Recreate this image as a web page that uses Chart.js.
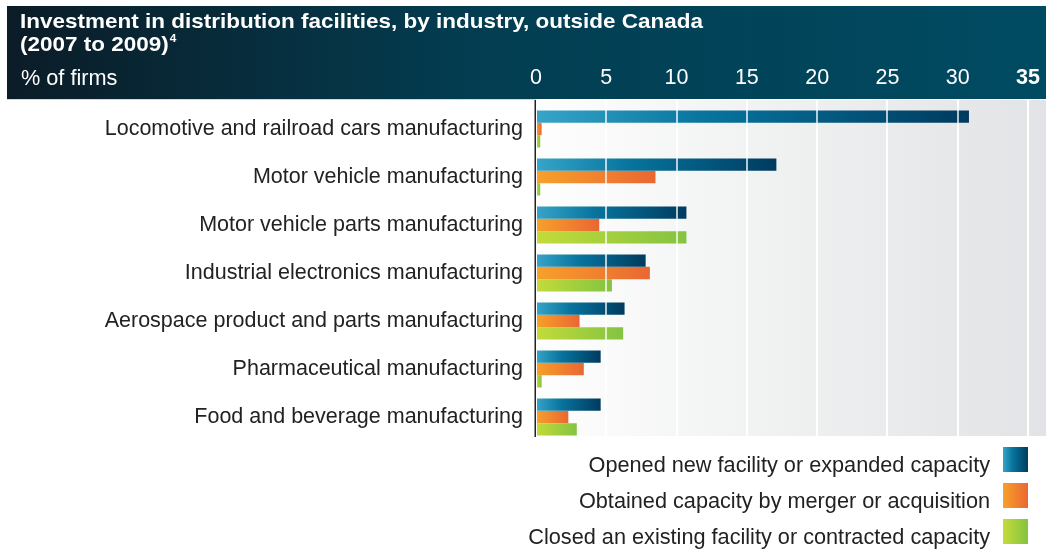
<!DOCTYPE html>
<html>
<head>
<meta charset="utf-8">
<script src="https://cdn.jsdelivr.net/npm/chart.js@4.4.1/dist/chart.umd.min.js"></script>
<style>
  html, body { margin: 0; padding: 0; background: #fff; }
</style>
</head>
<body>
<canvas id="myChart" width="1046" height="550"></canvas>
<script>
const industries = [
  'Locomotive and railroad cars manufacturing',
  'Motor vehicle manufacturing',
  'Motor vehicle parts manufacturing',
  'Industrial electronics manufacturing',
  'Aerospace product and parts manufacturing',
  'Pharmaceutical manufacturing',
  'Food and beverage manufacturing',
];
const openedNew = [30.8, 17.1, 10.7, 7.8, 6.3, 4.6, 4.6];
const obtainedByMerger = [0.4, 8.5, 4.5, 8.1, 3.1, 3.4, 2.3];
const closedExisting = [0.3, 0.3, 10.7, 5.4, 6.2, 0.4, 2.9];
const seriesLabels = [
  'Opened new facility or expanded capacity',
  'Obtained capacity by merger or acquisition',
  'Closed an existing facility or contracted capacity',
];
const xMax = 35;
const xStep = 5;

const FONT = '"Liberation Sans", Arial, sans-serif';
Chart.defaults.font.family = FONT;

const headerBottom = 100;
const plotBottom = 436;

const blueStops = [[0, '#37a4c8'], [0.4, '#07739d'], [1, '#003b5f']];
const orangeStops = [[0, '#f7a12a'], [1, '#e96733']];
const greenStops = [[0, '#c3db3a'], [1, '#84c341']];

function addStops(g, stops) {
  stops.forEach(([o, c]) => g.addColorStop(o, c));
  return g;
}

// each bar gets its own left-to-right gradient
function barFill(stops) {
  return (ctx) => {
    const chart = ctx.chart;
    const xs = chart.scales && chart.scales.x;
    if (!xs || ctx.type !== 'data') return stops[stops.length - 1][1];
    const x0 = xs.getPixelForValue(0);
    const x1 = xs.getPixelForValue(ctx.raw);
    if (!isFinite(x0) || !isFinite(x1) || x1 - x0 < 1) return stops[stops.length - 1][1];
    return addStops(chart.ctx.createLinearGradient(x0, 0, x1, 0), stops);
  };
}

const backdrop = {
  id: 'backdrop',
  beforeDraw(chart) {
    const { ctx, chartArea: a, width } = chart;
    const xs = chart.scales.x;
    ctx.save();
    // header band
    const hg = ctx.createLinearGradient(7, 0, width, 0);
    hg.addColorStop(0, '#0b1c27');
    hg.addColorStop(0.45, '#033d51');
    hg.addColorStop(1, '#004b62');
    ctx.fillStyle = hg;
    ctx.fillRect(7, 6, width - 7, headerBottom - 7);
    ctx.fillStyle = '#d3d7da';
    ctx.fillRect(7, headerBottom - 1, a.left - 7, 1);
    // plot background
    const pg = ctx.createLinearGradient(a.left, 0, width, 0);
    pg.addColorStop(0, '#fefefe');
    pg.addColorStop(0.5, '#eff0f0');
    pg.addColorStop(1, '#e2e3e6');
    ctx.fillStyle = pg;
    ctx.fillRect(a.left, headerBottom, width - a.left, plotBottom - headerBottom);
    // white grid on the background
    ctx.strokeStyle = '#fff';
    ctx.lineWidth = 2;
    xs.ticks.forEach((t) => {
      if (t.value === 0) return;
      const x = Math.round(xs.getPixelForValue(t.value));
      ctx.beginPath();
      ctx.moveTo(x, headerBottom);
      ctx.lineTo(x, plotBottom);
      ctx.stroke();
    });
    // titles
    ctx.fillStyle = '#fff';
    ctx.textBaseline = 'alphabetic';
    ctx.textAlign = 'left';
    ctx.font = 'bold 21px ' + FONT;
    const t1 = 'Investment in distribution facilities, by industry, outside Canada';
    const sx = 683 / ctx.measureText(t1).width;
    ctx.save();
    ctx.translate(20, 0);
    ctx.scale(sx, 1);
    ctx.fillText(t1, 0, 28);
    ctx.fillText('(2007 to 2009)', 0, 51);
    const w = ctx.measureText('(2007 to 2009)').width;
    ctx.font = 'bold 11px ' + FONT;
    ctx.fillText('4', w + 1, 42);
    ctx.restore();
    ctx.font = '21.7px ' + FONT;
    ctx.fillText('% of firms', 21, 85);
    ctx.restore();
  },
  afterDatasetsDraw(chart) {
    const { ctx, chartArea: a } = chart;
    ctx.save();
    ctx.strokeStyle = '#222';
    ctx.lineWidth = 1.5;
    ctx.beginPath();
    ctx.moveTo(a.left - 0.75, headerBottom);
    ctx.lineTo(a.left - 0.75, plotBottom + 1);
    ctx.stroke();
    ctx.restore();
  },
};

const sideLegend = {
  id: 'sideLegend',
  afterDraw(chart) {
    const ctx = chart.ctx;
    const fills = [blueStops, orangeStops, greenStops];
    const bottoms = [472, 508, 544];
    ctx.save();
    chart.data.datasets.forEach((ds, i) => {
      const yb = bottoms[i];
      ctx.font = '21.7px ' + FONT;
      ctx.fillStyle = '#222';
      ctx.textAlign = 'right';
      ctx.textBaseline = 'alphabetic';
      ctx.fillText(ds.label, 990, yb);
      ctx.fillStyle = addStops(ctx.createLinearGradient(1003, 0, 1028, 0), fills[i]);
      ctx.fillRect(1003, yb - 25, 25, 25);
    });
    ctx.restore();
  },
};

new Chart(document.getElementById('myChart'), {
  type: 'bar',
  data: {
    labels: industries,
    datasets: [
      { label: seriesLabels[0], data: openedNew, backgroundColor: barFill(blueStops) },
      { label: seriesLabels[1], data: obtainedByMerger, backgroundColor: barFill(orangeStops) },
      { label: seriesLabels[2], data: closedExisting, backgroundColor: barFill(greenStops) },
    ],
  },
  options: {
    responsive: false,
    animation: false,
    indexAxis: 'y',
    layout: { padding: { top: 0, right: 18, bottom: 109, left: 0 } },
    datasets: {
      bar: { categoryPercentage: 0.77, barPercentage: 1.0, borderWidth: 0 },
    },
    plugins: {
      legend: { display: false },
      tooltip: { enabled: true },
    },
    scales: {
      x: {
        position: 'top',
        min: 0,
        max: xMax,
        ticks: {
          stepSize: xStep,
          color: '#fff',
          padding: 14,
          font: (c) => ({ size: 21.5, weight: c.tick && c.tick.value === xMax ? 'bold' : 'normal' }),
        },
        grid: {
          z: 1,
          drawTicks: false,
          lineWidth: 2,
          color: (c) => (c.tick && c.tick.value === 0 ? 'rgba(0,0,0,0)' : 'rgba(255,255,255,0.7)'),
        },
        border: { display: false },
        afterFit: (s) => {
          s.height = 105;
          s.paddingLeft = 0;
          s.paddingRight = 0;
        },
      },
      y: {
        ticks: { color: '#222', padding: 13, font: { size: 21.5 } },
        grid: { display: false, drawTicks: false },
        border: { display: false },
        afterFit: (s) => { s.width = 536; },
      },
    },
  },
  plugins: [backdrop, sideLegend],
});
</script>
</body>
</html>
